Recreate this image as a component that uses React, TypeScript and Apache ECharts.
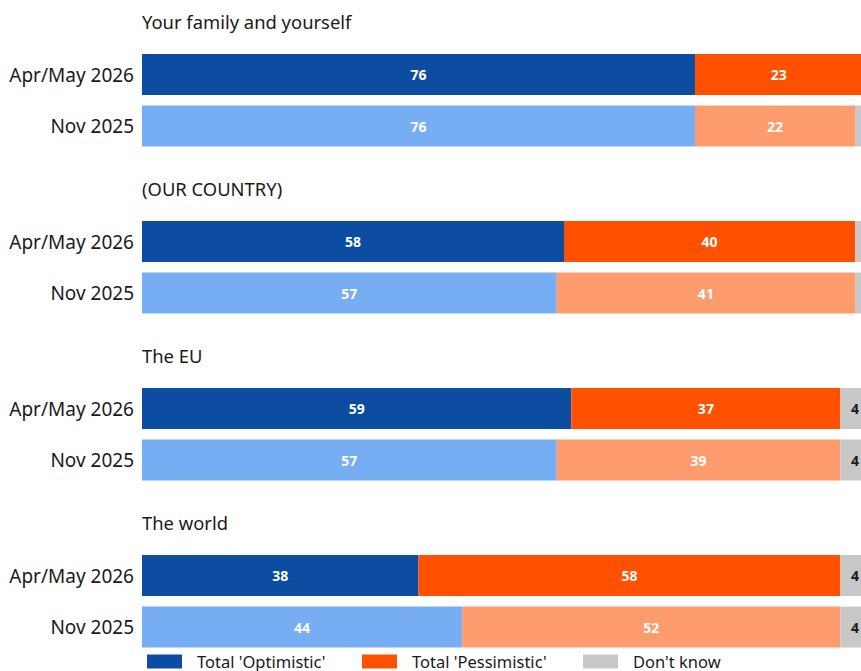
import React, { useEffect, useRef } from "react";
import * as echarts from "echarts";

const groupTitles = ["Your family and yourself", "(OUR COUNTRY)", "The EU", "The world"];
const waves = ["Apr/May 2026", "Nov 2025"];
const seriesNames = ["Total 'Optimistic'", "Total 'Pessimistic'", "Don't know"];
// per group: [Apr/May 2026, Nov 2025]
const optimistic = [[76, 76], [58, 57], [59, 57], [38, 44]];
const pessimistic = [[23, 22], [40, 41], [37, 39], [58, 52]];
const dontKnow = [[1, 2], [2, 2], [4, 4], [4, 4]];

const darkColors = ["#0c4da2", "#ff5100", "#c8c8c8"];
const lightColors = ["#76adf3", "#ff9c6e", "#c8c8c8"];

const FONT = "Noto Sans";

export default function App() {
  const ref = useRef<HTMLDivElement>(null);
  useEffect(() => {
    if (!ref.current) return;
    const chart = echarts.init(ref.current, null, { renderer: "svg" });
    const groupStep = 167;
    const grids: any[] = [];
    const xAxes: any[] = [];
    const yAxes: any[] = [];
    const series: any[] = [];
    const graphics: any[] = [];
    const allValues = [optimistic, pessimistic, dontKnow];
    groupTitles.forEach((t, g) => {
      grids.push({ left: 142, width: 727.6, top: 48.75 + g * groupStep, height: 103 });
      xAxes.push({
        type: "value", gridIndex: g, min: 0, max: 100,
        show: false, splitLine: { show: false },
      });
      yAxes.push({
        type: "category", gridIndex: g, data: waves, inverse: true,
        axisLine: { show: false }, axisTick: { show: false },
        axisLabel: { fontSize: 19, color: "#1a1a1a", fontFamily: FONT, margin: 8 },
      });
      graphics.push({
        type: "text", left: 142, top: 12 + g * groupStep,
        style: { text: t, fontSize: 18.4, fontFamily: FONT, fill: "#1a1a1a" },
      });
      seriesNames.forEach((name, s) => {
        series.push({
          name, type: "bar", stack: "g" + g, xAxisIndex: g, yAxisIndex: g,
          barWidth: 41,
          itemStyle: { color: darkColors[s] },
          data: allValues[s][g].map((v, i) => ({
            value: v,
            itemStyle: { color: i === 0 ? darkColors[s] : lightColors[s] },
          })),
          label: {
            show: true, position: "inside",
            color: s === 2 ? "#1a1a1a" : "#ffffff",
            fontWeight: "bold", fontSize: 14, fontFamily: FONT,
            formatter: (p: any) => (p.value >= 3 ? String(p.value) : ""),
          },
        });
      });
    });
    const legendLefts = [147, 362, 583];
    const legends = seriesNames.map((n, i) => ({
      data: [n], left: legendLefts[i], top: 653, padding: 0, itemWidth: 35, itemHeight: 14,
      icon: "rect", selectedMode: false,
      textStyle: { fontSize: 16.5, fontFamily: FONT, color: "#1a1a1a", padding: [0, 0, 0, 10] },
    }));
    chart.setOption({
      animation: false,
      backgroundColor: "#ffffff",
      grid: grids, xAxis: xAxes, yAxis: yAxes, series,
      legend: legends,
      graphic: graphics,
    });
    return () => chart.dispose();
  }, []);
  return (
    <div style={{ position: "fixed", left: 0, top: 0, width: 861, height: 671, overflow: "hidden" }}>
      <div ref={ref} style={{ width: 875, height: 671 }} />
    </div>
  );
}
